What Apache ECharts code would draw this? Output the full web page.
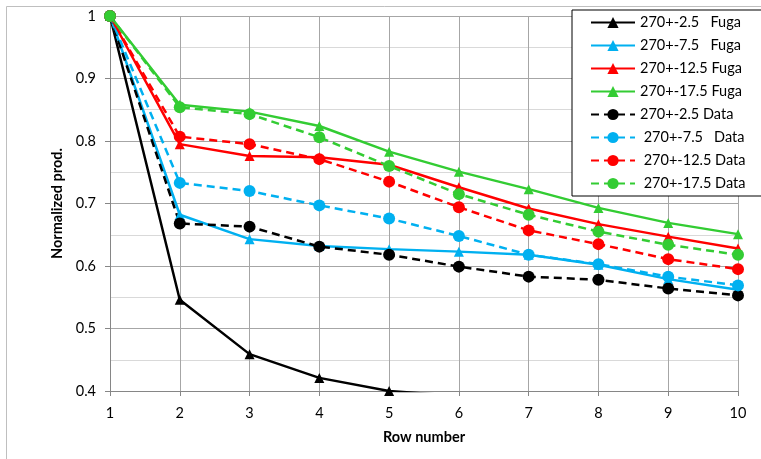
<!DOCTYPE html>
<html>
<head>
<meta charset="utf-8">
<script src="https://cdn.jsdelivr.net/npm/echarts@6/dist/echarts.min.js"></script>
<style>
  html, body { margin: 0; padding: 0; background: #fff; }
  #chart { width: 761px; height: 459px; }
</style>
</head>
<body>
<div id="chart"></div>
<script>
// Row numbers along the x axis
var rows = [1, 2, 3, 4, 5, 6, 7, 8, 9, 10];

// Fuga model results, normalized production per row
var fuga25  = [1, 0.546, 0.459, 0.421, 0.400, 0.392, 0.380, 0.370, 0.360, 0.350];
var fuga75  = [1, 0.682, 0.643, 0.632, 0.627, 0.623, 0.618, 0.602, 0.579, 0.562];
var fuga125 = [1, 0.795, 0.776, 0.774, 0.762, 0.726, 0.692, 0.667, 0.647, 0.628];
var fuga175 = [1, 0.858, 0.847, 0.824, 0.783, 0.751, 0.723, 0.693, 0.669, 0.651];

// Measured data, normalized production per row
var data25  = [1, 0.668, 0.663, 0.631, 0.618, 0.599, 0.583, 0.578, 0.564, 0.553];
var data75  = [1, 0.733, 0.720, 0.697, 0.676, 0.648, 0.618, 0.603, 0.583, 0.569];
var data125 = [1, 0.807, 0.795, 0.771, 0.735, 0.694, 0.657, 0.635, 0.611, 0.595];
var data175 = [1, 0.854, 0.843, 0.806, 0.760, 0.715, 0.682, 0.655, 0.634, 0.618];

// Legend names (spacing kept as written)
var names = [
  '270+-2.5   Fuga', '270+-7.5   Fuga', '270+-12.5 Fuga', '270+-17.5 Fuga',
  '270+-2.5 Data', ' 270+-7.5   Data', ' 270+-12.5 Data', ' 270+-17.5 Data'
];

var FONT = 'Lato, "Open Sans", sans-serif';
var FS = 14.5;
var colors = ['#000000', '#00B0F0', '#FF0000', '#33CC33'];

function pairs(vals) {
  return rows.map(function (r, i) { return [r, vals[i]]; });
}

function fugaSeries(name, vals, color) {
  return {
    name: name, type: 'line', data: pairs(vals), clip: true,
    symbol: 'triangle', symbolSize: 10,
    itemStyle: { color: color },
    lineStyle: { color: color, width: 2.5 },
    emphasis: { disabled: true }, animation: false
  };
}
function dataSeries(name, vals, color) {
  return {
    name: name, type: 'line', data: pairs(vals), clip: true,
    symbol: 'circle', symbolSize: 12,
    itemStyle: { color: color },
    lineStyle: { color: color, width: 2.5, type: [8, 5] },
    emphasis: { disabled: true }, animation: false
  };
}

var chart = echarts.init(document.getElementById('chart'), null, { renderer: 'canvas' });

chart.setOption({
  backgroundColor: '#ffffff',
  animation: false,
  graphic: [{
    type: 'rect', z: -1,
    shape: { x: 6.5, y: 6.5, width: 770, height: 470 },
    style: { fill: 'none', stroke: '#bfbfbf', lineWidth: 1 }
  }],
  grid: { left: 110, right: 23, top: 16, bottom: 68, containLabel: false },
  legend: {
    orient: 'vertical',
    left: 572, top: 10,
    padding: [5, 24, 5, 18],
    itemGap: 8,
    itemWidth: 44, itemHeight: 14,
    backgroundColor: '#ffffff',
    borderColor: '#000000', borderWidth: 1,
    textStyle: { fontFamily: FONT, fontSize: FS, color: '#000' },
    data: names
  },
  xAxis: {
    type: 'value', min: 1, max: 10, interval: 1,
    name: 'Row number', nameLocation: 'middle', nameGap: 39,
    nameTextStyle: { fontFamily: FONT, fontSize: FS, fontWeight: 'bold', color: '#000' },
    axisLine: { show: true, onZero: false, lineStyle: { color: '#868686', width: 1 } },
    axisTick: { show: true, length: 5, lineStyle: { color: '#868686' } },
    axisLabel: { fontFamily: FONT, fontSize: FS, color: '#000', margin: 15 },
    splitLine: { show: true, lineStyle: { color: '#a6a6a6', width: 1 } }
  },
  yAxis: {
    type: 'value', min: 0.4, max: 1, interval: 0.1,
    name: 'Normalized prod.', nameLocation: 'middle', nameGap: 43, nameRotate: 90,
    nameTextStyle: { fontFamily: FONT, fontSize: FS, fontWeight: 'bold', color: '#000' },
    axisLine: { show: true, lineStyle: { color: '#868686', width: 1 } },
    axisTick: { show: true, length: 5, lineStyle: { color: '#868686' } },
    axisLabel: {
      fontFamily: FONT, fontSize: FS, color: '#000', margin: 14,
      formatter: function (v) { return String(parseFloat(v.toFixed(1))); }
    },
    splitLine: { show: true, lineStyle: { color: '#a6a6a6', width: 1 } },
    minorTick: { show: false, splitNumber: 2 },
    minorSplitLine: { show: true, lineStyle: { color: '#d9d9d9', width: 1 } }
  },
  series: [
    fugaSeries(names[0], fuga25, colors[0]),
    fugaSeries(names[1], fuga75, colors[1]),
    fugaSeries(names[2], fuga125, colors[2]),
    fugaSeries(names[3], fuga175, colors[3]),
    dataSeries(names[4], data25, colors[0]),
    dataSeries(names[5], data75, colors[1]),
    dataSeries(names[6], data125, colors[2]),
    dataSeries(names[7], data175, colors[3])
  ]
});
</script>
</body>
</html>
